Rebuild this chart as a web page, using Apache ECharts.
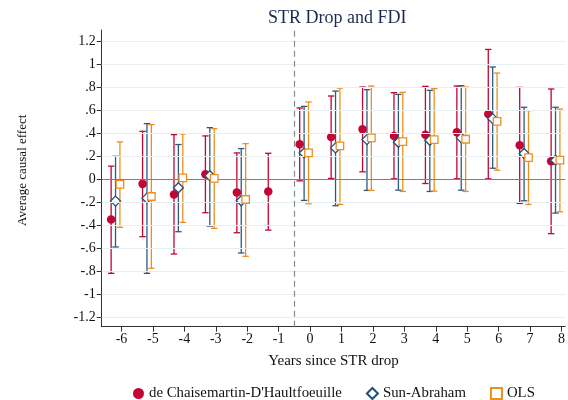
<!DOCTYPE html>
<html>
<head>
<meta charset="utf-8">
<script src="https://cdn.jsdelivr.net/npm/echarts@6/dist/echarts.min.js"></script>
<style>
  html, body { margin: 0; padding: 0; background: #fff; }
  #chart { width: 568px; height: 400px; }
</style>
</head>
<body>
<div id="chart"></div>
<script>
// event time (years since STR drop)
const years = [-6, -5, -4, -3, -2, -1, 0, 1, 2, 3, 4, 5, 6, 7, 8]
const yTicks = [-1.2, -1, -0.8, -0.6, -0.4, -0.2, 0, 0.2, 0.4, 0.6, 0.8, 1, 1.2]

// de Chaisemartin-D'Haultfoeuille
const dcdhEst = [-0.347, -0.038, -0.13, 0.046, -0.113, -0.104, 0.307, 0.37, 0.437, 0.379, 0.39, 0.411, 0.57, 0.298, 0.159]
const dcdhLo  = [-0.816, -0.497, -0.648, -0.289, -0.463, -0.44, -0.012, 0.009, 0.067, 0.006, -0.035, 0.006, 0.006, -0.208, -0.471]
const dcdhHi  = [0.116, 0.419, 0.39, 0.379, 0.231, 0.228, 0.622, 0.726, 0.804, 0.755, 0.81, 0.813, 1.131, 0.801, 0.787]

// Sun-Abraham (no estimate at -1)
const saEst = [-0.188, -0.162, -0.072, 0.032, -0.185, null, 0.231, 0.275, 0.347, 0.324, 0.341, 0.362, 0.529, 0.226, 0.168]
const saLo  = [-0.587, -0.816, -0.454, -0.405, -0.639, null, -0.182, -0.228, -0.095, -0.093, -0.104, -0.093, 0.098, -0.185, -0.292]
const saHi  = [0.202, 0.486, 0.304, 0.451, 0.269, null, 0.636, 0.769, 0.781, 0.74, 0.775, 0.816, 0.978, 0.628, 0.628]

// OLS (no estimate at -1)
const olsEst = [-0.043, -0.148, 0.014, 0.009, -0.174, null, 0.231, 0.292, 0.362, 0.33, 0.347, 0.35, 0.506, 0.191, 0.168]
const olsLo  = [-0.416, -0.772, -0.373, -0.425, -0.668, null, -0.211, -0.217, -0.095, -0.104, -0.101, -0.104, 0.081, -0.217, -0.281]
const olsHi  = [0.327, 0.477, 0.396, 0.442, 0.312, null, 0.674, 0.795, 0.813, 0.758, 0.79, 0.804, 0.926, 0.599, 0.613]

const serif = 'Liberation Serif'
const red = '#c10534'
const blue = '#1f4e79'
const orange = '#ec8f1f'

function pts(est, shift) {
  const out = []
  years.forEach((y, i) => { if (est[i] != null) out.push([y + shift, est[i]]) })
  return out
}
function bars(lo, hi, shift) {
  const out = []
  years.forEach((y, i) => { if (lo[i] != null) out.push([y + shift, lo[i], hi[i]]) })
  return out
}
function barSeries(name, data, color) {
  return {
    name: name,
    type: 'custom',
    z: 2,
    silent: true,
    data: data,
    encode: { x: 0, y: [1, 2] },
    renderItem: function (params, api) {
      const lo = api.coord([api.value(0), api.value(1)])
      const hi = api.coord([api.value(0), api.value(2)])
      const w = 3.2
      const st = { stroke: color, lineWidth: 1.3 }
      return {
        type: 'group',
        children: [
          { type: 'line', shape: { x1: hi[0], y1: hi[1], x2: lo[0], y2: lo[1] }, style: st },
          { type: 'line', shape: { x1: hi[0] - w, y1: hi[1], x2: hi[0] + w, y2: hi[1] }, style: st },
          { type: 'line', shape: { x1: lo[0] - w, y1: lo[1], x2: lo[0] + w, y2: lo[1] }, style: st }
        ]
      }
    }
  }
}
function fmt(v) {
  const r = Math.round(v * 10) / 10
  if (r === 0) return '0'
  const s = String(Math.abs(r)).replace(/^0/, '')
  return (r < 0 ? '-' : '') + s
}

const chart = echarts.init(document.getElementById('chart'))
const option = {
  animation: false,
  backgroundColor: '#fff',
  title: {
    text: 'STR Drop and FDI',
    left: 263,
    top: 4,
    textStyle: { fontFamily: serif, fontSize: 18, fontWeight: 'normal', color: '#1c2b4f' }
  },
  legend: {
    left: 128,
    top: 381,
    itemGap: 24,
    itemWidth: 11,
    itemHeight: 11,
    data: ["de Chaisemartin-D'Haultfoeuille", 'Sun-Abraham', 'OLS'],
    textStyle: { fontFamily: serif, fontSize: 14.8, color: '#111' }
  },
  grid: { left: 101.7, right: 1, top: 30, bottom: 73.3, containLabel: false },
  xAxis: {
    type: 'value',
    min: -6.63,
    max: 8.12,
    name: 'Years since STR drop',
    nameLocation: 'middle',
    nameGap: 27,
    nameTextStyle: { fontFamily: serif, fontSize: 15, color: '#111' },
    axisLine: { show: true, onZero: false, lineStyle: { color: '#333', width: 1 } },
    axisTick: { show: true, length: 5, customValues: years, lineStyle: { color: '#333' } },
    axisLabel: { customValues: years, margin: 6, fontFamily: serif, fontSize: 14, color: '#111' },
    splitLine: { show: false }
  },
  yAxis: {
    type: 'value',
    min: -1.28,
    max: 1.3,
    name: 'Average causal effect',
    nameLocation: 'middle',
    nameGap: 73,
    nameTextStyle: { fontFamily: serif, fontSize: 13, color: '#111', padding: [0, 0, 0, 16] },
    axisLine: { show: true, onZero: false, lineStyle: { color: '#333', width: 1 } },
    axisTick: { show: true, length: 5, customValues: yTicks, lineStyle: { color: '#333' } },
    axisLabel: { customValues: yTicks, margin: 6, formatter: fmt, fontFamily: serif, fontSize: 14, color: '#111' },
    splitLine: { show: false }
  },
  series: [
    {
      name: 'grid',
      type: 'line',
      data: [],
      z: 0,
      silent: true,
      markLine: {
        silent: true,
        symbol: 'none',
        label: { show: false },
        animation: false,
        data: yTicks.filter(v => v !== 0).map(v => ({ yAxis: v, lineStyle: { color: '#e6eef1', width: 1.2, type: 'solid' } }))
          .concat([
            { yAxis: 0, lineStyle: { color: '#808080', width: 1.2, type: 'solid' } },
            { xAxis: -0.5, lineStyle: { color: '#8a8a8a', width: 1.2, type: [6, 4] } }
          ])
      }
    },
    barSeries('dcdh-ci', bars(dcdhLo, dcdhHi, -0.33), red),
    barSeries('sa-ci', bars(saLo, saHi, -0.19), '#2e5a80'),
    barSeries('ols-ci', bars(olsLo, olsHi, -0.05), orange),
    {
      name: "de Chaisemartin-D'Haultfoeuille",
      type: 'scatter',
      z: 3,
      symbol: 'circle',
      symbolSize: 8.5,
      itemStyle: { color: red, opacity: 1 },
      data: pts(dcdhEst, -0.33)
    },
    {
      name: 'Sun-Abraham',
      type: 'scatter',
      z: 4,
      symbol: 'diamond',
      symbolSize: [10, 10],
      itemStyle: { color: '#fff', borderColor: blue, borderWidth: 1.3, opacity: 1 },
      data: pts(saEst, -0.19)
    },
    {
      name: 'OLS',
      type: 'scatter',
      z: 5,
      symbol: 'rect',
      symbolSize: 7.5,
      itemStyle: { color: '#fff', borderColor: orange, borderWidth: 1.3, opacity: 1 },
      data: pts(olsEst, -0.05)
    }
  ]
}
chart.setOption(option)
</script>
</body>
</html>
